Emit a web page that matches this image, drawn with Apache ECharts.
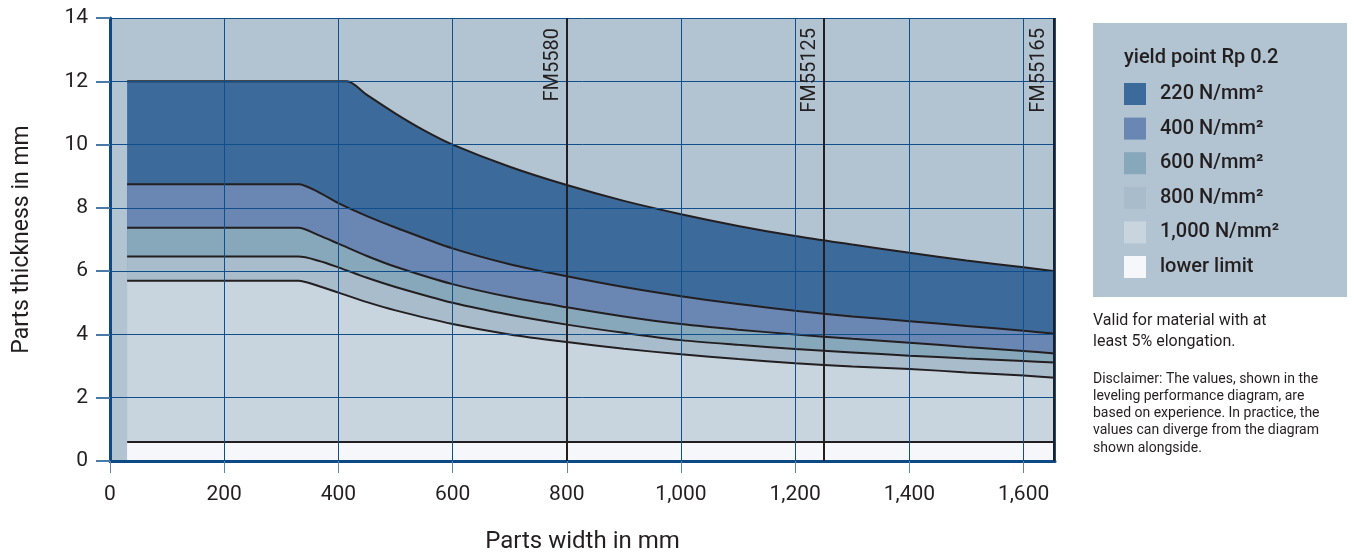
<!DOCTYPE html>
<html>
<head>
<meta charset="utf-8">
<script src="https://cdn.jsdelivr.net/npm/echarts@6/dist/echarts.min.js"></script>
<style>
html,body{margin:0;padding:0;background:#fff;}
#chart{width:1354px;height:554px;}
</style>
</head>
<body>
<div id="chart"></div>
<script>
// ---- data ----
const xTicks = [0, 200, 400, 600, 800, 1000, 1200, 1400, 1600];
const yTicks = [0, 2, 4, 6, 8, 10, 12, 14];
const xTop = [30, 400, 415, 450, 500, 550, 600, 700, 800, 900, 1000, 1100, 1200, 1300, 1400, 1500, 1600, 1655];
const y220 = [12, 12, 12, 11.57, 10.98, 10.45, 10.0, 9.3, 8.72, 8.22, 7.8, 7.43, 7.11, 6.84, 6.58, 6.34, 6.12, 6.0];
const xLow = [30, 310, 330, 365, 400, 450, 500, 600, 700, 800, 900, 1000, 1100, 1200, 1300, 1400, 1500, 1600, 1655];
const y400 = [8.75, 8.75, 8.75, 8.5, 8.15, 7.74, 7.38, 6.72, 6.22, 5.84, 5.5, 5.21, 4.96, 4.75, 4.57, 4.42, 4.27, 4.12, 4.02];
const y600 = [7.37, 7.37, 7.37, 7.14, 6.87, 6.48, 6.14, 5.59, 5.18, 4.86, 4.57, 4.33, 4.15, 4.0, 3.86, 3.74, 3.6, 3.48, 3.40];
const y800 = [6.46, 6.46, 6.46, 6.33, 6.12, 5.79, 5.5, 5.0, 4.62, 4.31, 4.05, 3.82, 3.67, 3.54, 3.43, 3.33, 3.24, 3.16, 3.11];
const y1000 = [5.70, 5.70, 5.70, 5.53, 5.32, 5.02, 4.76, 4.33, 4.0, 3.76, 3.55, 3.37, 3.22, 3.09, 2.99, 2.91, 2.8, 2.7, 2.63];
const xLimit = [30, 1655];
const yLimit = [0.6, 0.6];
const machines = ['FM5580', 'FM55125', 'FM55165'];
const machineWidths = [800, 1250, 1652];
const seriesNames = ['220 N/mm²', '400 N/mm²', '600 N/mm²', '800 N/mm²', '1,000 N/mm²', 'lower limit'];
const seriesColors = ['#3c6a9b', '#6a87b3', '#87a7bb', '#a9bccb', '#c8d5df', '#f5f7fb'];
const legendTitle = 'yield point Rp 0.2';
const noteLines = ['Valid for material with at', 'least 5% elongation.'];
const disclaimerLines = ['Disclaimer: The values, shown in the', 'leveling performance diagram, are',
  'based on experience. In practice, the', 'values can diverge from the diagram', 'shown alongside.'];

const FONT = 'Roboto, "DejaVu Sans", sans-serif';
const TXT = '#231f20';
const zip = (xs, ys) => xs.map((x, i) => [x, ys[i]]);
const bandX = [xTop, xLow, xLow, xLow, xLow, xLimit];
const bandY = [y220, y400, y600, y800, y1000, yLimit];

const series = seriesNames.map((name, i) => ({
  name: name,
  type: 'line',
  data: zip(bandX[i], bandY[i]),
  smooth: i === 5 ? false : 0.3,
  showSymbol: false,
  symbol: 'none',
  silent: true,
  z: 2,
  itemStyle: { color: seriesColors[i] },
  lineStyle: { color: '#231f20', width: 2 },
  areaStyle: { color: seriesColors[i], opacity: 1, origin: 'start' }
}));

series.push({
  name: 'machines',
  type: 'line',
  data: [],
  z: 6,
  silent: true,
  markLine: {
    silent: true,
    symbol: ['none', 'none'],
    animation: false,
    lineStyle: { color: '#231f20', width: 2, type: 'solid' },
    label: {
      show: true,
      position: 'insideEndTop',
      formatter: '{b}',
      fontFamily: FONT,
      fontSize: 20,
      color: TXT,
      distance: [10, 4]
    },
    data: machines.map((m, i) => ({ name: m, xAxis: machineWidths[i] }))
  }
});

// custom legend panel and notes
const graphic = [
  { type: 'rect', left: 1093, top: 23, shape: { width: 254, height: 274 }, style: { fill: '#b2c3d1' }, silent: true },
  { type: 'text', left: 1124, top: 48, style: { text: legendTitle, font: '500 20px ' + FONT, fill: TXT } }
];
seriesNames.forEach((n, i) => {
  graphic.push({ type: 'rect', left: 1124, top: 83 + i * 34.6, shape: { width: 22, height: 22 }, style: { fill: seriesColors[i] } });
  graphic.push({ type: 'text', left: 1160, top: 84 + i * 34.6, style: { text: n, font: '500 20px ' + FONT, fill: TXT } });
});
noteLines.forEach((t, i) => {
  graphic.push({ type: 'text', left: 1093, top: 313 + i * 21, style: { text: t, font: '16px ' + FONT, fill: TXT } });
});
disclaimerLines.forEach((t, i) => {
  graphic.push({ type: 'text', left: 1093, top: 372 + i * 17.3, style: { text: t, font: '14px ' + FONT, fill: TXT } });
});

const chart = echarts.init(document.getElementById('chart'), null, { renderer: 'canvas' });
chart.setOption({
  animation: false,
  grid: { left: 110, top: 18, right: 299, bottom: 93, show: true, backgroundColor: '#b2c3d1', borderWidth: 0,
    containLabel: false, outerBoundsMode: 'none' },
  xAxis: {
    type: 'value', min: 0, max: 1655, interval: 200, z: 3,
    name: 'Parts width in mm', nameLocation: 'middle', nameGap: 69,
    nameTextStyle: { fontFamily: FONT, fontSize: 24, color: TXT },
    axisLine: { show: true, onZero: false, lineStyle: { color: '#0b4a84', width: 3 } },
    axisTick: { show: true, inside: false, length: 12, lineStyle: { color: '#5b86b1', width: 1 } },
    axisLabel: {
      showMaxLabel: false, margin: 23, fontFamily: FONT, fontSize: 21, color: TXT,
      formatter: v => xTicks.includes(v) ? v.toLocaleString('en-US') : ''
    },
    splitLine: { show: true, lineStyle: { color: '#114f8c', width: 1 } }
  },
  yAxis: {
    type: 'value', min: 0, max: 14, interval: 2, z: 3,
    name: 'Parts thickness in mm', nameLocation: 'middle', nameGap: 76,
    nameTextStyle: { fontFamily: FONT, fontSize: 23, color: TXT },
    axisLine: { show: true, lineStyle: { color: '#0b4a84', width: 3 } },
    axisTick: { show: true, inside: false, length: 14, lineStyle: { color: '#4a7aa8', width: 2 } },
    axisLabel: { margin: 22, fontFamily: FONT, fontSize: 21, color: TXT,
      formatter: v => yTicks.includes(v) ? String(v) : '' },
    splitLine: { show: true, lineStyle: { color: '#114f8c', width: 1 } }
  },
  series: series,
  graphic: graphic
});
</script>
</body>
</html>
